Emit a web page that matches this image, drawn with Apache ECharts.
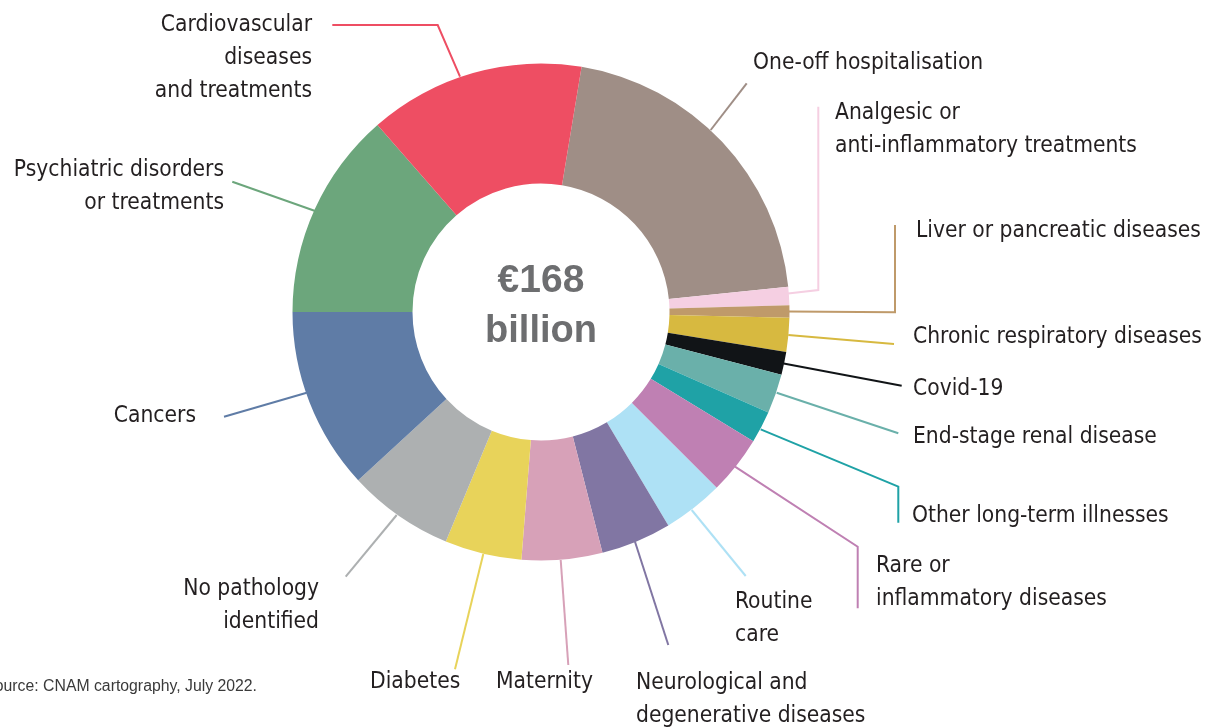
<!DOCTYPE html>
<html>
<head>
<meta charset="utf-8">
<script src="https://cdn.jsdelivr.net/npm/echarts@6/dist/echarts.min.js"></script>
<style>html,body{margin:0;padding:0;background:#fff;}#chart{width:1216px;height:728px;}</style>
</head>
<body>
<div id="chart"></div>
<script>
// ---- Data (billions of euros) ----
const categories = [
  "One-off hospitalisation",
  "Analgesic or anti-inflammatory treatments",
  "Liver or pancreatic diseases",
  "Chronic respiratory diseases",
  "Covid-19",
  "End-stage renal disease",
  "Other long-term illnesses",
  "Rare or inflammatory diseases",
  "Routine care",
  "Neurological and degenerative diseases",
  "Maternity",
  "Diabetes",
  "No pathology identified",
  "Cancers",
  "Psychiatric disorders or treatments",
  "Cardiovascular diseases and treatments"
];
const values = [34.9, 2.0, 1.35, 3.7, 2.5, 4.3, 3.5, 6.4, 6.6, 7.7, 8.8, 8.4, 11.6, 19.9, 22.8, 23.6];
const labelTexts = [
  "One-off hospitalisation",
  "Analgesic or\nanti-inflammatory treatments",
  "Liver or pancreatic diseases",
  "Chronic respiratory diseases",
  "Covid-19",
  "End-stage renal disease",
  "Other long-term illnesses",
  "Rare or\ninflammatory diseases",
  "Routine\ncare",
  "Neurological and\ndegenerative diseases",
  "Maternity",
  "Diabetes",
  "No pathology\nidentified",
  "Cancers",
  "Psychiatric disorders\nor treatments",
  "Cardiovascular\ndiseases\nand treatments"
];
const centerLines = ["€168", "billion"];
const sourceText = "Source: CNAM cartography, July 2022.";

// ---- Styles & layout ----
const colors = ["#9f8e86", "#f5cfe2", "#bf9a6a", "#d7b940", "#111417", "#6ab0aa", "#1fa2a6", "#bf80b3",
  "#aee1f5", "#8176a3", "#d7a1b8", "#e8d35a", "#adb0b1", "#5f7ca6", "#6ca67c", "#ee4e63"];

// label anchor and leader-line points (page pixels)
const labelLayouts = [
  {x: 753, y: 63, align: "left", pts: [[710.7,130],[746.7,83.3]]},
  {x: 835, y: 129.5, align: "left", pts: [[788,293.5],[818.3,290],[818.3,106.7]]},
  {x: 916, y: 231, align: "left", pts: [[789,311.5],[895,312.3],[895,225]]},
  {x: 913, y: 337.5, align: "left", pts: [[788.3,335],[894,344]]},
  {x: 913, y: 389, align: "left", pts: [[783.6,363.6],[901.7,385.7]]},
  {x: 913, y: 437.5, align: "left", pts: [[776.7,392.7],[898.3,433.3]]},
  {x: 912, y: 516, align: "left", pts: [[760.7,429.3],[898.3,486.7],[898.3,522.7]]},
  {x: 876, y: 582.5, align: "left", pts: [[735,466.7],[857.7,546.7],[857.7,608.3]]},
  {x: 735, y: 619, align: "left", pts: [[691.7,510],[745.7,576]]},
  {x: 636, y: 699.5, align: "left", pts: [[635,541.7],[668.3,645]]},
  {x: 496, y: 682.5, align: "left", pts: [[560.7,560],[568.3,665]]},
  {x: 370, y: 682.5, align: "left", pts: [[483.3,554],[455,669.3]]},
  {x: 319, y: 606, align: "right", pts: [[396.7,515],[345.7,576.7]]},
  {x: 196, y: 416, align: "right", pts: [[306.7,392.7],[224,416.7]]},
  {x: 224, y: 187, align: "right", pts: [[318,212],[232.3,181.7]]},
  {x: 312, y: 58.5, align: "right", pts: [[460,76.7],[437.7,25],[332.3,25]]}
];

const LABEL_FONT = "'Liberation Sans Narrow', 'DejaVu Sans Condensed', 'Liberation Sans', sans-serif";

const chart = echarts.init(document.getElementById('chart'), null, {renderer: 'canvas'});
const seriesData = categories.map((name, i) => ({
  name: name,
  value: values[i],
  itemStyle: {color: colors[i]},
  labelLine: {lineStyle: {color: colors[i]}}
}));

chart.setOption({
  backgroundColor: '#ffffff',
  animation: false,
  series: [{
    type: 'pie',
    center: [541, 312],
    radius: [128.5, 248.5],
    startAngle: 80.6,
    clockwise: true,
    avoidLabelOverlap: false,
    data: seriesData,
    itemStyle: {borderWidth: 0},
    label: {
      show: true,
      position: 'outside',
      formatter: p => labelTexts[p.dataIndex],
      fontFamily: LABEL_FONT,
      fontSize: 22.6,
      lineHeight: 33,
      color: '#231f20'
    },
    labelLine: {show: true, length: 10, length2: 10, smooth: false, lineStyle: {width: 2}},
    labelLayout: function (params) {
      const l = labelLayouts[params.dataIndex];
      return {
        x: l.x,
        y: l.y,
        align: l.align,
        verticalAlign: 'middle',
        labelLinePoints: l.pts
      };
    }
  }],
  graphic: [
    {type: 'text', x: 541, y: 281.5, style: {text: centerLines[0], fill: '#6d6e70', font: "bold 39px 'Liberation Sans', Arial, sans-serif", align: 'center', verticalAlign: 'middle'}},
    {type: 'text', x: 541, y: 332, style: {text: centerLines[1], fill: '#6d6e70', font: "bold 38px 'Liberation Sans', Arial, sans-serif", align: 'center', verticalAlign: 'middle'}},
    {type: 'text', x: 257, y: 687, style: {text: sourceText, fill: '#3a3a3a', font: "15.8px 'Liberation Sans', Arial, sans-serif", align: 'right', verticalAlign: 'middle'}}
  ]
});
</script>
</body>
</html>
